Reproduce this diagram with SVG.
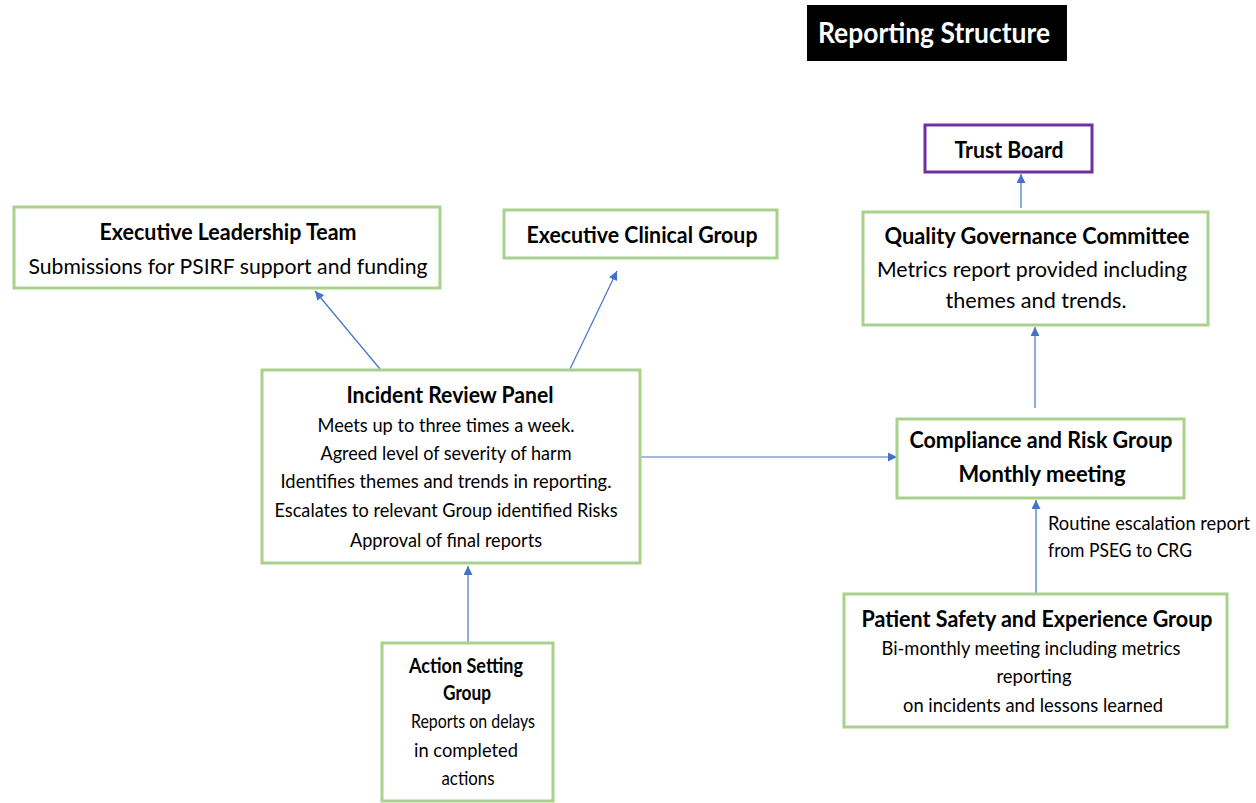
<svg xmlns="http://www.w3.org/2000/svg" width="1256" height="803" viewBox="0 0 1256 803">
  <style>
    text { font-family: Lato, "Open Sans", "Liberation Sans", sans-serif; fill: #000; text-anchor: middle; }
    .t { font-weight: bold; font-size: 22px; }
    .b { font-size: 21px; }
    .s { font-size: 19px; }
    .box { fill: #fff; stroke: #a9d18e; stroke-width: 3; }
    .purple { fill: #fff; stroke: #7030a0; stroke-width: 3; }
    .link { stroke: #4472c4; stroke-width: 1.2; fill: none; marker-end: url(#head); }
  </style>
  <defs>
    <marker id="head" viewBox="0 0 10 10" refX="10" refY="5" markerWidth="10" markerHeight="9" markerUnits="userSpaceOnUse" orient="auto">
      <path d="M0,0 L10,5 L0,10 z" fill="#4472c4"/>
    </marker>
  </defs>
  <rect width="1256" height="803" fill="#fff"/>

  <!-- heading -->
  <g id="heading">
    <rect x="807" y="5" width="260" height="56" fill="#000"/>
    <text x="934" y="43" style="font-size:29px;font-weight:bold;fill:#fff" textLength="232" lengthAdjust="spacingAndGlyphs">Reporting Structure</text>
  </g>

  <!-- connectors -->
  <g id="connectors">
    <line class="link" x1="380" y1="369" x2="315" y2="291"/>
    <line class="link" x1="570" y1="369" x2="617" y2="271"/>
    <line class="link" x1="641" y1="457" x2="897" y2="457"/>
    <line class="link" x1="468" y1="642" x2="468" y2="566"/>
    <line class="link" x1="1036" y1="593" x2="1036" y2="500"/>
    <line class="link" x1="1035" y1="408" x2="1035" y2="327"/>
    <line class="link" x1="1021" y1="208" x2="1021" y2="174"/>
    <text x="1048" y="530" class="s" style="text-anchor:start" textLength="202" lengthAdjust="spacingAndGlyphs">Routine escalation report</text>
    <text x="1048" y="557" class="s" style="text-anchor:start" textLength="144" lengthAdjust="spacingAndGlyphs">from PSEG to CRG</text>
  </g>

  <g id="exec-leadership">
    <rect class="box" x="14" y="207" width="426" height="81"/>
    <text x="228" y="240" class="t" textLength="257" lengthAdjust="spacingAndGlyphs">Executive Leadership Team</text>
    <text x="228" y="274" class="b" textLength="399" lengthAdjust="spacingAndGlyphs">Submissions for PSIRF support and funding</text>
  </g>

  <g id="exec-clinical">
    <rect class="box" x="504" y="210" width="273" height="48"/>
    <text x="642" y="243" class="t" textLength="231" lengthAdjust="spacingAndGlyphs">Executive Clinical Group</text>
  </g>

  <g id="trust-board">
    <rect class="purple" x="925" y="125" width="167" height="47"/>
    <text x="1009" y="158" class="t" textLength="109" lengthAdjust="spacingAndGlyphs">Trust Board</text>
  </g>

  <g id="quality-governance">
    <rect class="box" x="863" y="212" width="345" height="113"/>
    <text x="1037" y="244" class="t" textLength="305" lengthAdjust="spacingAndGlyphs">Quality Governance Committee</text>
    <text x="1032" y="277" class="b" textLength="310" lengthAdjust="spacingAndGlyphs">Metrics report provided including</text>
    <text x="1036" y="308" class="b" textLength="181" lengthAdjust="spacingAndGlyphs">themes and trends.</text>
  </g>

  <g id="incident-review">
    <rect class="box" x="262" y="370" width="378" height="193"/>
    <text x="450" y="403" class="t" textLength="207" lengthAdjust="spacingAndGlyphs">Incident Review Panel</text>
    <text x="446" y="432" class="s" textLength="257" lengthAdjust="spacingAndGlyphs">Meets up to three times a week.</text>
    <text x="446" y="460" class="s" textLength="251" lengthAdjust="spacingAndGlyphs">Agreed level of severity of harm</text>
    <text x="446" y="488" class="s" textLength="331" lengthAdjust="spacingAndGlyphs">Identifies themes and trends in reporting.</text>
    <text x="446" y="517" class="s" textLength="343" lengthAdjust="spacingAndGlyphs">Escalates to relevant Group identified Risks</text>
    <text x="446" y="547" class="s" textLength="192" lengthAdjust="spacingAndGlyphs">Approval of final reports</text>
  </g>

  <g id="compliance-risk">
    <rect class="box" x="897" y="419" width="287" height="79"/>
    <text x="1041" y="448" class="t" textLength="263" lengthAdjust="spacingAndGlyphs">Compliance and Risk Group</text>
    <text x="1042" y="482" class="t" textLength="167" lengthAdjust="spacingAndGlyphs">Monthly meeting</text>
  </g>

  <g id="patient-safety">
    <rect class="box" x="844" y="594" width="383" height="133"/>
    <text x="1037" y="627" class="t" textLength="351" lengthAdjust="spacingAndGlyphs">Patient Safety and Experience Group</text>
    <text x="1031" y="655" class="s" textLength="299" lengthAdjust="spacingAndGlyphs">Bi-monthly meeting including metrics</text>
    <text x="1034" y="683" class="s" textLength="75" lengthAdjust="spacingAndGlyphs">reporting</text>
    <text x="1033" y="712" class="s" textLength="260" lengthAdjust="spacingAndGlyphs">on incidents and lessons learned</text>
  </g>

  <g id="action-setting">
    <rect class="box" x="382" y="643" width="171" height="158"/>
    <text x="466" y="673" class="t" style="font-size:20px" textLength="114" lengthAdjust="spacingAndGlyphs">Action Setting</text>
    <text x="467" y="700" class="t" style="font-size:20px" textLength="48" lengthAdjust="spacingAndGlyphs">Group</text>
    <text x="473" y="728" class="s" textLength="124" lengthAdjust="spacingAndGlyphs">Reports on delays</text>
    <text x="466" y="757" class="s" textLength="104" lengthAdjust="spacingAndGlyphs">in completed</text>
    <text x="468" y="785" class="s" textLength="53" lengthAdjust="spacingAndGlyphs">actions</text>
  </g>
</svg>
